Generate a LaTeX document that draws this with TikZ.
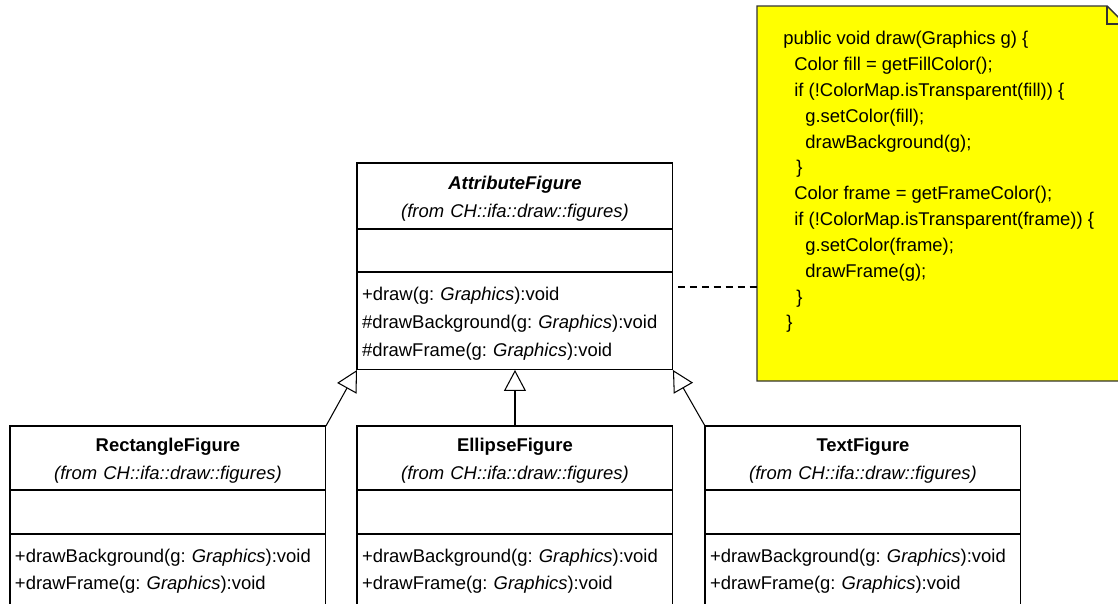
\documentclass[tikz,border=0pt]{standalone}
\usepackage{fontspec}
\setmainfont{Liberation Sans}
\usetikzlibrary{positioning,arrows.meta}
\definecolor{giallo}{RGB}{255,255,0}
\frenchspacing

\begin{document}
\begin{tikzpicture}[
    x=0.02cm,y=-0.02cm,
    scomparto/.style={draw=black,line width=0.6pt,minimum width=6.32cm,
      inner sep=0pt,outer sep=0pt,text height=10.8pt,
      font=\fontsize{10.5}{16.4}\selectfont},
    titolo/.style={scomparto,align=center,text width=6.32cm,minimum height=1.32cm},
    titolob/.style={titolo,minimum height=1.28cm},
    attributi/.style={scomparto,minimum height=0.86cm},
    attributib/.style={scomparto,minimum height=0.88cm},
    metodi/.style={scomparto,align=left,text width=6.12cm,inner xsep=0.1cm,
      minimum height=1.96cm,font=\fontsize{10.5}{15.9}\selectfont},
    metodib/.style={metodi,minimum height=1.44cm,text height=9pt},
    eredita/.style={draw=black,line width=0.6pt,
      -{Triangle[length=0.42cm,width=0.44cm,fill=white,line width=0.6pt]}},
    legame/.style={draw=black,line width=0.6pt,dash pattern=on 4pt off 2.8pt,dash phase=4pt},
    nota/.style={fill=giallo,draw=black!80,line width=0.8pt},
    codice/.style={inner sep=0pt,align=left,font=\fontsize{10.5}{14.7}\selectfont}]

  \useasboundingbox (0,0) rectangle (1118,603);
  \clip (0,0) rectangle (1118,603);

  % ---- classe astratta -------------------------------------------------
  \node[titolo,anchor=north west] (attrtit) at (357,163)
    {\textbf{\textit{AttributeFigure}}\\ \textit{(from CH::ifa::draw::figures)}};
  \node[attributi,below=0pt of attrtit] (attrvar) {};
  \node[metodi,below=0pt of attrvar] (attrop)
    {+draw(g: \textit{Graphics}):void\\
     \#drawBackground(g: \textit{Graphics}):void\\
     \#drawFrame(g: \textit{Graphics}):void};

  % ---- sottoclassi -----------------------------------------------------
  \node[titolob,anchor=north west] (rettit) at (10,426)
    {\textbf{RectangleFigure}\\ \textit{(from CH::ifa::draw::figures)}};
  \node[attributib,below=0pt of rettit] (retvar) {};
  \node[metodib,below=0pt of retvar] (retop)
    {+drawBackground(g: \textit{Graphics}):void\\
     +drawFrame(g: \textit{Graphics}):void};

  \node[titolob,anchor=north west] (elltit) at (357,426)
    {\textbf{EllipseFigure}\\ \textit{(from CH::ifa::draw::figures)}};
  \node[attributib,below=0pt of elltit] (ellvar) {};
  \node[metodib,below=0pt of ellvar] (ellop)
    {+drawBackground(g: \textit{Graphics}):void\\
     +drawFrame(g: \textit{Graphics}):void};

  \node[titolob,anchor=north west] (testit) at (705,426)
    {\textbf{TextFigure}\\ \textit{(from CH::ifa::draw::figures)}};
  \node[attributib,below=0pt of testit] (tesvar) {};
  \node[metodib,below=0pt of tesvar] (tesop)
    {+drawBackground(g: \textit{Graphics}):void\\
     +drawFrame(g: \textit{Graphics}):void};

  % ---- generalizzazioni ------------------------------------------------
  \draw[eredita] (rettit.north east) -- (attrop.south west);
  \draw[eredita] (elltit.north) -- (attrop.south);
  \draw[eredita] (testit.north west) -- (attrop.south east);

  % ---- nota con il codice di draw() ------------------------------------
  \draw[nota] (757,6) -- (1107,6) -- (1130,29) -- (1130,381) -- (757,381) -- cycle;
  \draw[draw=black!80,line width=0.8pt] (1107,6) -- (1107,24) -- (1125,24);
  \node[codice,anchor=north west] (nota) at (783,31)
    {public void draw(Graphics g) \{\\
     \hspace*{0.22cm}Color fill = getFillColor();\\
     \hspace*{0.22cm}if (!ColorMap.isTransparent(fill)) \{\\
     \hspace*{0.44cm}g.setColor(fill);\\
     \hspace*{0.44cm}drawBackground(g);\\
     \hspace*{0.26cm}\}\\
     \hspace*{0.22cm}Color frame = getFrameColor();\\
     \hspace*{0.22cm}if (!ColorMap.isTransparent(frame)) \{\\
     \hspace*{0.44cm}g.setColor(frame);\\
     \hspace*{0.44cm}drawFrame(g);\\
     \hspace*{0.26cm}\}\\
     \hspace*{0.06cm}\}};

  \coordinate (ancora) at (757,287);
  \draw[legame] (attrop.east |- ancora) -- (ancora);

\end{tikzpicture}
\end{document}
